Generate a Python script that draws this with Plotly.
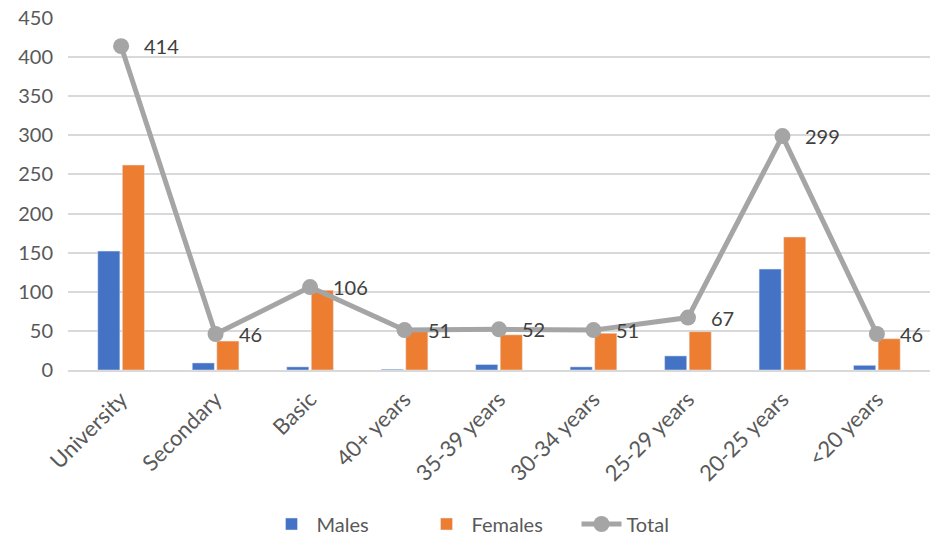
import plotly.graph_objects as go

categories = ["University", "Secondary", "Basic", "40+ years", "35-39 years",
              "30-34 years", "25-29 years", "20-25 years", "<20 years"]
males = [152, 9, 4, 1, 7, 4, 18, 129, 6]
females = [262, 37, 102, 50, 45, 47, 49, 170, 40]
total = [414, 46, 106, 51, 52, 51, 67, 299, 46]

FONT = "Lato, 'Open Sans', sans-serif"
TXT = "#595959"

fig = go.Figure()
fig.add_trace(go.Bar(name="Males", x=categories, y=males, marker_color="#4472c4"))
fig.add_trace(go.Bar(name="Females", x=categories, y=females, marker_color="#ed7d31"))
fig.add_trace(go.Scatter(
    name="Total", x=categories, y=total, mode="lines+markers",
    line=dict(color="#a5a5a5", width=5),
    marker=dict(color="#a5a5a5", size=16),
    cliponaxis=False,
))

# value labels for the Total line, set a little to the right of each marker
for c, v in zip(categories, total):
    fig.add_annotation(x=c, y=v, text=str(v), showarrow=False, xanchor="left",
                       yanchor="middle", xshift=21,
                       font=dict(size=20, color="#404040", family=FONT))

fig.update_layout(
    width=936, height=537,
    margin=dict(l=68, r=6, t=18, b=167, autoexpand=False),
    plot_bgcolor="white", paper_bgcolor="white",
    barmode="group", bargap=0.48, bargroupgap=0.1,
    font=dict(family=FONT, size=20, color=TXT),
    legend=dict(orientation="h", x=0.5, xanchor="center", y=-0.4375, yanchor="middle",
                font=dict(size=20, color=TXT), traceorder="normal", itemwidth=40,
                entrywidth=100),
    showlegend=True,
)
fig.update_xaxes(tickangle=-45, tickfont=dict(size=22, color=TXT), showgrid=False,
                 showline=True, linecolor="#d9d9d9", linewidth=1.5, ticks="outside",
                 ticklen=6, tickcolor="white", automargin=False)
fig.update_yaxes(range=[0, 450], dtick=50, gridcolor="#d9d9d9", gridwidth=1.5,
                 tickfont=dict(size=20, color=TXT), zeroline=False, ticks="outside",
                 ticklen=10, tickcolor="white", automargin=False)

fig.write_html("out.html")
